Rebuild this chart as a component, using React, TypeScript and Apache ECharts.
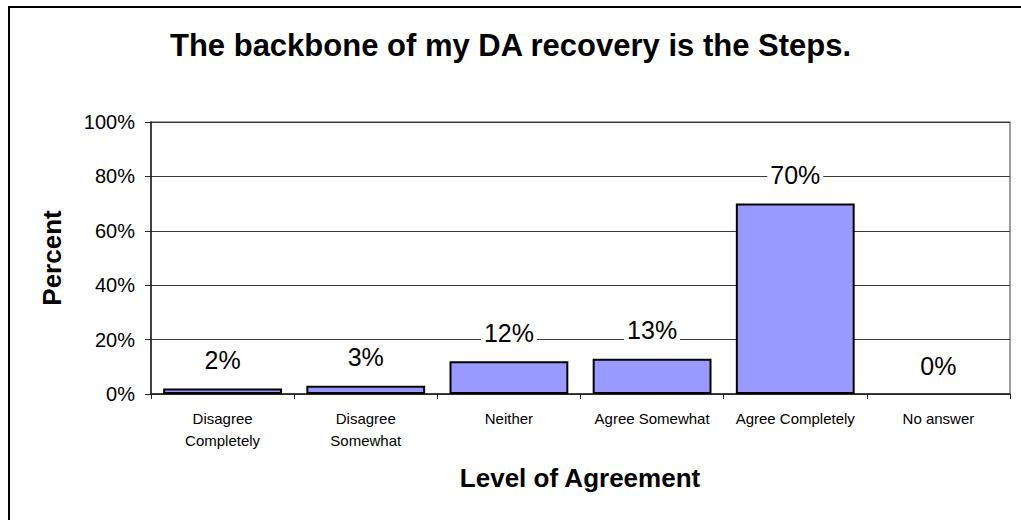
import React, { useEffect, useRef } from "react";
import * as echarts from "echarts";

const categories = [
  "Disagree\nCompletely",
  "Disagree\nSomewhat",
  "Neither",
  "Agree Somewhat",
  "Agree Completely",
  "No answer",
];
const percentValues = [2, 3, 12, 13, 70, 0];
const yTicks = [0, 20, 40, 60, 80, 100];
const titleText = "The backbone of my DA recovery is the Steps.";
const xAxisTitle = "Level of Agreement";
const yAxisTitle = "Percent";

const FONT = "'Liberation Sans', Arial, Helvetica, sans-serif";

export default function App() {
  const ref = useRef<HTMLDivElement>(null);
  useEffect(() => {
    if (!ref.current) return;
    const chart = echarts.init(ref.current, null, { renderer: "svg" });
    chart.setOption({
      animation: false,
      backgroundColor: "#ffffff",
      title: {
        text: titleText,
        left: "center",
        top: 25,
        textStyle: { fontFamily: FONT, fontSize: 31, fontWeight: "bold", color: "#000" },
      },
      graphic: [
        {
          type: "rect",
          shape: { x: 9, y: 7, width: 1100, height: 600 },
          style: { fill: "none", stroke: "#000", lineWidth: 2 },
          silent: true,
        },
        {
          type: "text",
          x: 580,
          y: 478,
          style: {
            text: xAxisTitle,
            font: `bold 26px ${FONT}`,
            fill: "#000",
            align: "center",
            verticalAlign: "middle",
          },
        },
        {
          type: "text",
          x: 52,
          y: 258,
          rotation: Math.PI / 2,
          style: {
            text: yAxisTitle,
            font: `bold 26px ${FONT}`,
            fill: "#000",
            align: "center",
            verticalAlign: "middle",
          },
        },
      ],
      grid: {
        left: 151,
        top: 122,
        right: 11,
        bottom: 126,
        show: true,
        borderColor: "#808080",
        borderWidth: 1.5,
        containLabel: false,
      },
      xAxis: {
        type: "category",
        data: categories,
        axisLine: { lineStyle: { color: "#222", width: 1.5 } },
        axisTick: { show: true, length: 5, lineStyle: { color: "#222" } },
        axisLabel: {
          interval: 0,
          fontFamily: FONT,
          fontSize: 15,
          color: "#000",
          lineHeight: 22,
          margin: 13,
        },
      },
      yAxis: {
        type: "value",
        min: 0,
        max: 100,
        interval: 20,
        axisLine: { show: true, lineStyle: { color: "#222", width: 1.5 } },
        axisTick: { show: true, length: 6, lineStyle: { color: "#222" } },
        axisLabel: {
          formatter: (v: number) => (yTicks.includes(v) ? `${v}%` : ""),
          fontFamily: FONT,
          fontSize: 20,
          color: "#000",
          margin: 16,
        },
        splitLine: { show: true, lineStyle: { color: "#3a3a3a", width: 1 } },
      },
      series: [
        {
          type: "bar",
          data: percentValues.map((v) =>
            v === 0 ? { value: v, itemStyle: { borderWidth: 0 } } : v
          ),
          barCategoryGap: "17%",
          itemStyle: { color: "#9999FF", borderColor: "#000", borderWidth: 2 },
          label: {
            show: true,
            position: "top",
            distance: 13,
            formatter: (p: any) => `${p.value}%`,
            fontFamily: FONT,
            fontSize: 25,
            color: "#000",
            backgroundColor: "#fff",
            padding: [1, 3, 3, 3],
          },
        },
      ],
    });
    return () => chart.dispose();
  }, []);
  return (
    <div
      ref={ref}
      style={{ position: "absolute", left: 0, top: 0, width: 1021, height: 520 }}
    />
  );
}
